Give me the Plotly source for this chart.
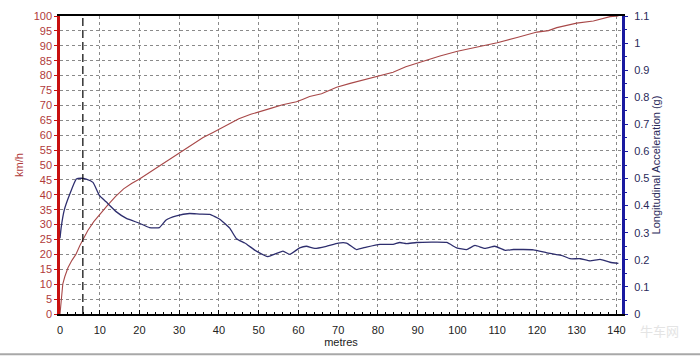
import plotly.graph_objects as go

# Speed (km/h) vs distance (metres)
speed_x = [0, 0.3, 0.7, 1.2, 2, 3, 4, 5, 5.75, 7, 8.5, 10, 12, 14, 16, 18, 20, 22.5, 25, 28, 31,
           33.5, 36, 38.5, 42, 45, 48, 50, 53, 56, 59.5, 61, 62.8, 65.8, 67.5, 69.6, 73, 76,
           79.6, 83.8, 87, 90.6, 93, 95.6, 100, 105, 110, 115, 120, 122.9, 125, 130, 134.2,
           138.4, 140.5]
speed_y = [0, 5, 10, 12.5, 15.5, 18, 20, 23, 25, 28, 31, 33.5, 36.5, 39.5, 42, 43.8, 45.3, 47.5,
           49.7, 52.3, 54.7, 57.2, 59.2, 60.9, 63.5, 65.5, 67, 67.9, 69, 70.2, 71.2, 72, 73,
           73.9, 75, 76.1, 77.4, 78.5, 79.8, 81.1, 83, 84.6, 85.5, 86.6, 88.2, 89.6, 91, 92.8,
           94.6, 95.1, 96.1, 97.6, 98.3, 99.8, 100]

# Longitudinal acceleration (g) vs distance (metres)
acc_x = [0, 0.3, 1.1, 2.4, 4.1, 5.3, 6.6, 8.3, 9.9, 11.6, 14.2, 16.7, 20, 22.5, 25, 26.7, 29.3,
         32.6, 35.1, 37.7, 40.2, 42.7, 44.4, 46.5, 49.4, 52.3, 56.1, 57.8, 60.3, 62, 64.1, 67,
         70, 72.1, 74.6, 77.1, 80.5, 83.8, 85.5, 87.2, 89.7, 97.3, 99.8, 102.3, 104.4, 106.9,
         109.4, 112, 114.1, 119.1, 122.5, 126.7, 128.3, 130.9, 133.4, 135.9, 138.4, 140.5]
acc_y = [0.28, 0.32, 0.385, 0.44, 0.498, 0.501, 0.498, 0.486, 0.438, 0.414, 0.377, 0.353, 0.335,
         0.319, 0.319, 0.347, 0.362, 0.371, 0.369, 0.368, 0.35, 0.317, 0.278, 0.262, 0.232,
         0.212, 0.232, 0.220, 0.244, 0.250, 0.242, 0.250, 0.262, 0.262, 0.238, 0.247, 0.257,
         0.257, 0.264, 0.26, 0.264, 0.264, 0.244, 0.238, 0.253, 0.242, 0.25, 0.235, 0.238,
         0.237, 0.226, 0.214, 0.204, 0.204, 0.196, 0.202, 0.191, 0.187]

marker_x = 5.75  # vertical dashed marker

fig = go.Figure()
fig.add_trace(go.Scatter(x=speed_x, y=speed_y, mode="lines",
                         line=dict(color="#a84848", width=1.1), showlegend=False))
fig.add_trace(go.Scatter(x=acc_x, y=acc_y, mode="lines", yaxis="y2",
                         line=dict(color="#2e2e6e", width=1.3, shape="spline", smoothing=0.4),
                         showlegend=False))

fig.add_shape(type="line", xref="x", yref="paper", x0=marker_x, x1=marker_x, y0=0, y1=1,
              line=dict(color="black", width=1.2, dash="8px,4px"))
# bottom frame line
fig.add_shape(type="line", xref="paper", yref="paper", x0=-0.2, x1=1.2, y0=-0.135, y1=-0.135,
              line=dict(color="#a8a8a8", width=2))

font = "Liberation Sans, Arial, sans-serif"
fig.update_layout(
    width=700, height=357,
    margin=dict(l=60, r=78, t=10, b=43),
    paper_bgcolor="white", plot_bgcolor="white",
    font=dict(family=font, size=11),
    xaxis=dict(range=[0, 141.4], dtick=10, tick0=0, showgrid=True, gridcolor="#8a8a8a",
               griddash="3px,3px", gridwidth=1, zeroline=False,
               showline=True, linecolor="black", linewidth=2, mirror=True,
               ticks="inside", ticklen=4, tickcolor="black",
               minor=dict(dtick=2, ticks="inside", ticklen=2, tickcolor="black", showgrid=False),
               tickfont=dict(color="#222222", size=11), ticklabelstandoff=5,
               title=dict(text="metres", font=dict(color="#222222", size=11), standoff=1)),
    yaxis=dict(range=[0, 100], dtick=5, tick0=0, showgrid=True, gridcolor="#8a8a8a",
               griddash="3px,3px", gridwidth=1, zeroline=False,
               showline=True, linecolor="#c81010", linewidth=2.5,
               ticks="outside", ticklen=3, tickcolor="#c81010",
               tickfont=dict(color="#b03a3a", size=11),
               title=dict(text="km/h", font=dict(color="#b03a3a", size=11), standoff=8)),
    yaxis2=dict(range=[0, 1.1], dtick=0.1, tick0=0, overlaying="y", side="right",
                showgrid=False, zeroline=False,
                showline=True, linecolor="#1a1aa0", linewidth=3,
                ticks="outside", ticklen=3, tickcolor="#1a1aa0",
                minor=dict(dtick=0.05, ticks="outside", ticklen=2, tickcolor="#1a1aa0"),
                tickfont=dict(color="#2a2a5a", size=11), ticklabelstandoff=4,
                title=dict(text="Longitudinal Acceleration (g)",
                           font=dict(color="#2a2a5a", size=11), standoff=4)),
)

fig.add_annotation(text="牛车网", xref="paper", yref="paper", x=1.105, y=-0.095,
                   showarrow=False, font=dict(family="Noto Sans CJK SC", size=13, color="#e4e4e4"))

fig.write_html("out.html")
